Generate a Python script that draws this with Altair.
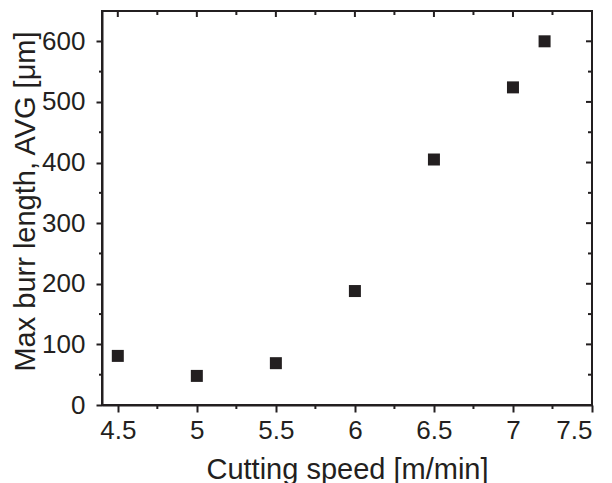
import altair as alt
import pandas as pd

# data
speed = [4.5, 5.0, 5.5, 6.0, 6.5, 7.0, 7.2]
burr = [81, 48, 69, 188, 405, 524, 600]

x_major = [4.5, 5.0, 5.5, 6.0, 6.5, 7.0, 7.5]
x_minor = [4.75, 5.25, 5.75, 6.25, 6.75, 7.25]
y_major = [0, 100, 200, 300, 400, 500, 600]
y_minor = [50, 150, 250, 350, 450, 550]

W, H = 490, 394
INK = "#231f20"
FONT = "Liberation Sans"

xs = alt.Scale(domain=[4.4, 7.5], nice=False, zero=False)
ys = alt.Scale(domain=[0, 650], nice=False, zero=True)

x_axis = alt.Axis(values=x_major, format="~g", tickSize=7, labelPadding=5,
                  title="Cutting speed [m/min]", titleY=73,
                  titleBaseline="alphabetic", titleFontSize=29,
                  titleFontWeight="normal")
y_axis = alt.Axis(values=y_major, format="d", tickSize=6, labelPadding=11,
                  title="Max burr length, AVG [μm]", titleX=-68, titleY=190,
                  titleAngle=-90, titleBaseline="alphabetic", titleAlign="center",
                  titleFontSize=29, titleFontWeight="normal")

pts = pd.DataFrame({"speed": speed, "burr": burr})

points = alt.Chart(pts).mark_square(size=144, color=INK, opacity=1).encode(
    x=alt.X("speed:Q", scale=xs, axis=x_axis, title="Cutting speed [m/min]"),
    y=alt.Y("burr:Q", scale=ys, axis=y_axis, title="Max burr length, AVG [μm]"),
)

xmin_df = pd.DataFrame({"v": x_minor})
xmaj_df = pd.DataFrame({"v": x_major})
ymin_df = pd.DataFrame({"v": y_minor})
ymaj_df = pd.DataFrame({"v": y_major})


def xrule(df, y0, y1):
    return alt.Chart(df).mark_rule(color=INK, strokeWidth=2).encode(
        x=alt.X("v:Q", scale=xs, axis=x_axis, title="Cutting speed [m/min]"),
        y=alt.value(y0), y2=alt.value(y1))


def yrule(df, x0, x1):
    return alt.Chart(df).mark_rule(color=INK, strokeWidth=2).encode(
        y=alt.Y("v:Q", scale=ys, axis=y_axis, title="Max burr length, AVG [μm]"),
        x=alt.value(x0), x2=alt.value(x1))


layers = [
    points,
    xrule(xmin_df, H, H + 4),      # bottom minor, outward
    xrule(xmaj_df, 0, 6),          # top major, inward
    xrule(xmin_df, 0, 4),          # top minor, inward
    yrule(ymin_df, -3, 0),         # left minor, outward
    yrule(ymaj_df, W - 6, W),      # right major, inward
    yrule(ymin_df, W - 4, W),      # right minor, inward
]

chart = alt.layer(*layers).properties(
    width=W, height=H, autosize="none",
    padding={"left": 94, "top": 3, "right": 12, "bottom": 78},
).configure_view(
    stroke=INK, strokeWidth=2
).configure_axis(
    grid=False, domainColor=INK, domainWidth=2, tickColor=INK, tickWidth=2,
    labelColor=INK, titleColor=INK, labelFont=FONT, titleFont=FONT,
    labelFontSize=26,
)

chart.save("out.html", embed_options={"renderer": "svg", "actions": False})
